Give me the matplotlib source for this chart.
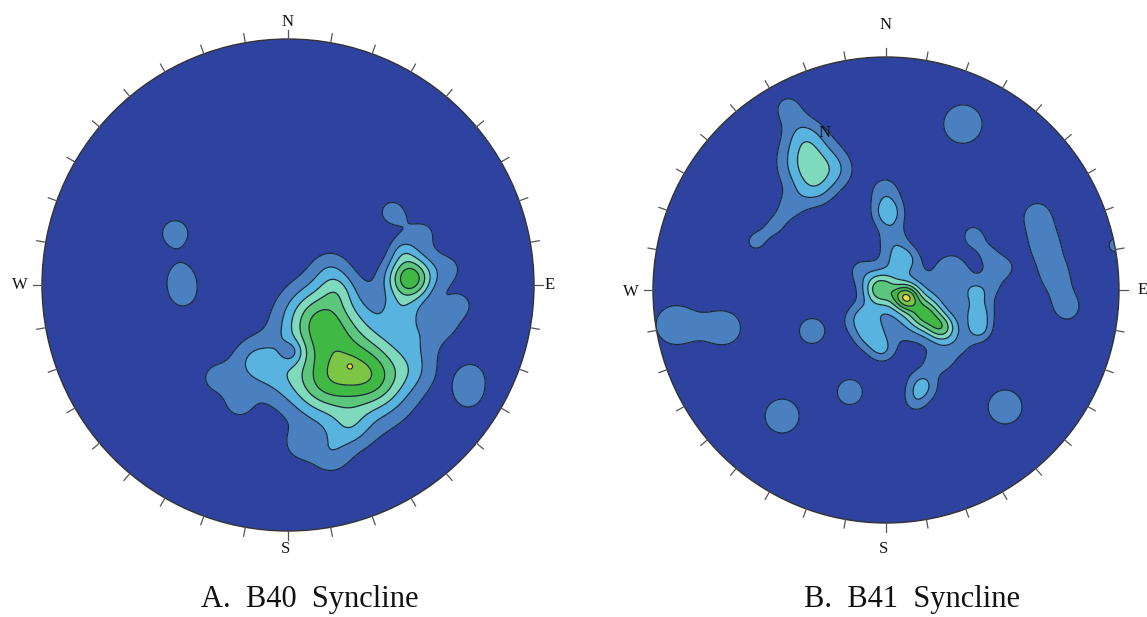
import numpy as np
import matplotlib
matplotlib.use("Agg")
import matplotlib.pyplot as plt
from matplotlib.patches import Circle

# ---------------- data (normalised stereonet coords: x=East, y=North, net radius 1) -------------
# Plot A (B40 Syncline): pole-density kernels -> centre x, centre y, peak value, spread
a_x   = [-0.459, -0.435, -0.427, 0.748, 0.736,
         0.232, 0.130, 0.260, 0.366, 0.130, 0.252,
         -0.134, -0.033, -0.297, -0.203, 0.252, 0.171, 0.049, 0.537, 0.516, 0.171, 0.203,
         0.496, 0.467, 0.423, 0.557, 0.659, 0.707, 0.638, 0.455, 0.016]
a_y   = [0.211, 0.045, -0.045, -0.366, -0.455,
         -0.325, -0.142, -0.337, -0.386, -0.407, -0.329,
         -0.313, -0.378, -0.378, -0.488, -0.581, -0.691, -0.650, -0.203, -0.346, 0.069, -0.020,
         0.028, 0.142, 0.297, 0.215, 0.069, -0.081, -0.150, -0.110, -0.272]
a_amp = [1.6, 1.1, 1.1, 1.0, 1.0,
         2.0, 3.8, 2.85, 2.0, 2.0, 0.75,
         1.7, 0.8, 1.1, 1.0, 1.3, 1.2, 1.0, 1.0, 0.8, 1.1, 1.2,
         5.5, 1.2, 1.2, 1.0, 1.0, 1.0, 1.0, 1.2, -1.3]
a_sig = [0.052, 0.06, 0.06, 0.06, 0.06,
         0.22, 0.10, 0.12, 0.09, 0.09, 0.015,
         0.07, 0.07, 0.06, 0.055, 0.06, 0.06, 0.05, 0.07, 0.06, 0.06, 0.05,
         0.065, 0.04, 0.06, 0.06, 0.06, 0.05, 0.05, 0.05, 0.035]

# Plot B (B41 Syncline)
b_x   = [-0.330, -0.348, -0.305, -0.421, -0.206, -0.412, -0.476, -0.562,
         0.330,
         -0.004, 0.009, 0.030, 0.047,
         -0.026, 0.086, 0.167, 0.240, 0.103,
         0.090, -0.069, -0.017, 0.395, 0.403, 0.382, 0.446, 0.318, -0.090,
         -0.112, -0.133, 0.318, 0.253,
         0.373, 0.446, 0.511, 0.275,
         0.155, 0.210, 0.124,
         -0.318, -0.155, -0.446, 0.511,
         0.648, 0.682, 0.725, 0.777, 0.987,
         -0.906, -0.691]
b_y   = [0.545, 0.665, 0.429, 0.781, 0.515, 0.356, 0.275, 0.206,
         0.712,
         0.429, 0.330, 0.215, 0.120,
         0.004, -0.030, -0.103, -0.163, -0.064,
         0.137, -0.193, -0.258, -0.094, -0.172, -0.013, 0.021, 0.043, -0.107,
         0.086, -0.129, -0.236, -0.300,
         0.236, 0.150, 0.094, 0.107,
         -0.412, -0.309, -0.481,
         -0.176, -0.438, -0.541, -0.502,
         0.322, 0.193, 0.064, -0.077, 0.193,
         -0.150, -0.163]
b_amp = [3.2, 1.2, 1.2, 1.2, 1.0, 1.0, 1.0, 1.1,
         1.6,
         1.3, 2.4, 1.3, 1.2,
         3.8, 4.8, 3.5, 3.5, 2.0,
         1.1, 2.0, 1.5, 2.2, 1.7, 1.3, 1.2, 1.0, 1.0,
         1.0, 1.0, 1.0, 0.8,
         1.2, 1.0, 1.0, 1.0,
         2.2, 0.8, 1.0,
         1.6, 1.6, 1.6, 1.6,
         1.25, 1.25, 1.25, 1.25, 1.3,
         1.5, 1.4]
b_sig = [0.09, 0.06, 0.06, 0.06, 0.06, 0.05, 0.05, 0.05,
         0.085,
         0.055, 0.05, 0.05, 0.05,
         0.05, 0.04, 0.05, 0.045, 0.12,
         0.04, 0.05, 0.04, 0.05, 0.04, 0.03, 0.05, 0.05, 0.04,
         0.05, 0.05, 0.05, 0.04,
         0.05, 0.05, 0.04, 0.05,
         0.05, 0.045, 0.04,
         0.055, 0.055, 0.075, 0.075,
         0.068, 0.068, 0.068, 0.068, 0.04,
         0.09, 0.08]

levels = [1, 2, 3, 4, 5, 6, 7, 100]
level_colors = ["#4a7fc0", "#58b3df", "#7fd9bd", "#5cc77c", "#40b844", "#7cc545", "#f2df3c"]
bg_color = "#2e42a0"

titles = ["A.  B40  Syncline", "B.  B41  Syncline"]
compass = ["N", "E", "S", "W"]

# ---------------- figure ----------------
W, H = 1147, 617
fig = plt.figure(figsize=(W / 100, H / 100), dpi=100)
plt.rcParams['font.family'] = ['Liberation Serif', 'DejaVu Serif']

panels = [
    dict(cx=288, cy=285, R=246, bx=a_x, by=a_y, amp=a_amp, sig=a_sig,
         lab=[(0, 1.07), (1.065, 0.0), (-0.01, -1.075), (-1.09, 0.0)], title_x=310),
    dict(cx=886, cy=290, R=233, bx=b_x, by=b_y, amp=b_amp, sig=b_sig,
         lab=[(0, 1.137), (1.10, 0.0), (-0.01, -1.11), (-1.094, -0.01)], title_x=912),
]

half = 1.15
for i, p in enumerate(panels):
    size = 2 * half * p["R"]
    ax = fig.add_axes([(p["cx"] - size / 2) / W, (H - p["cy"] - size / 2) / H, size / W, size / H])
    ax.set_xlim(-half, half)
    ax.set_ylim(-half, half)
    ax.set_aspect("equal")
    ax.axis("off")

    g = np.linspace(-1.01, 1.01, 500)
    X, Y = np.meshgrid(g, g)
    Z = np.zeros_like(X)
    for x0, y0, a0, s0 in zip(p["bx"], p["by"], p["amp"], p["sig"]):
        Z += a0 * np.exp(-((X - x0) ** 2 + (Y - y0) ** 2) / (2 * s0 ** 2))

    clip = Circle((0, 0), 1, transform=ax.transData)
    ax.add_patch(Circle((0, 0), 1, facecolor=bg_color, edgecolor="none", zorder=0))
    cf = ax.contourf(X, Y, Z, levels=levels, colors=level_colors, zorder=1)
    cl = ax.contour(X, Y, Z, levels=levels[:-1], colors="#1b2b3c", linewidths=0.9, zorder=2)
    cf.set_clip_path(clip)
    cl.set_clip_path(clip)
    ax.add_patch(Circle((0, 0), 1, facecolor="none", edgecolor="#333333", linewidth=1.0, zorder=3))

    # ticks every 10 degrees
    for ang in range(0, 360, 10):
        t = np.deg2rad(ang)
        ax.plot([np.sin(t), 1.037 * np.sin(t)], [np.cos(t), 1.037 * np.cos(t)],
                color="#555555", linewidth=0.9, zorder=3, clip_on=False)

    for lab, (lx, ly) in zip(compass, p["lab"]):
        ax.text(lx, ly, lab, ha="center", va="center", fontsize=12, color="#111111", clip_on=False)

    fig.text(p["title_x"] / W, 1 - 600 / H, titles[i], ha="center", va="center",
             fontsize=22, color="#111111")

# stray label inside plot B
fig.axes[1].text(-0.262, 0.674, "N", ha="center", va="center", fontsize=12, color="#111111", zorder=4)

fig.savefig("out.png", dpi=100)
